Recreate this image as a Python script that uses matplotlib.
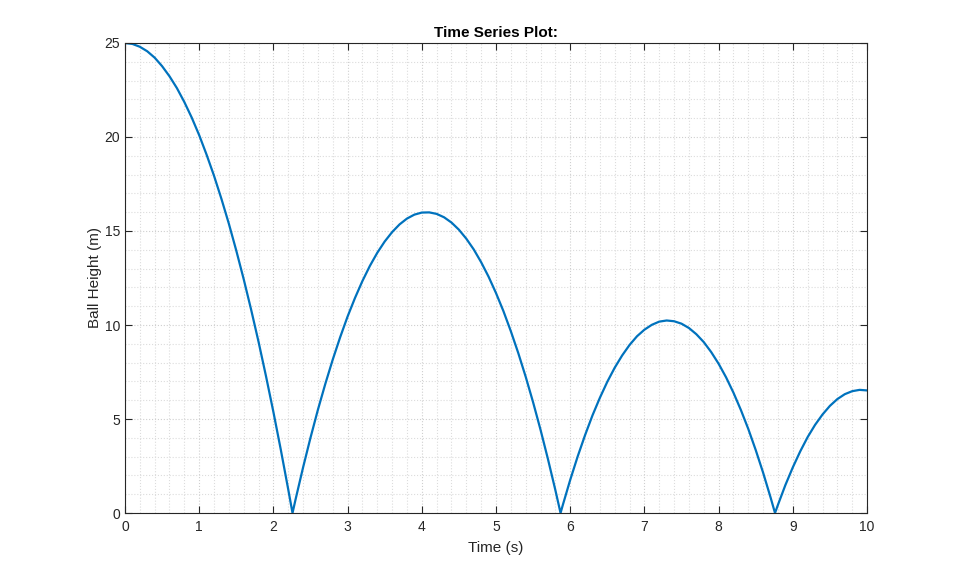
import matplotlib.pyplot as plt
from matplotlib.ticker import MultipleLocator

# values (time in s, height in m)
t_drop = [0.0, 0.1, 0.2, 0.3, 0.4, 0.5, 0.6, 0.7, 0.8, 0.9, 1.0, 1.1, 1.2,
          1.3, 1.4, 1.5, 1.6, 1.7, 1.8, 1.9, 2.0, 2.1, 2.2, 2.258]
h_drop = [25.0, 24.95, 24.80, 24.56, 24.22, 23.77, 23.23, 22.60, 21.86, 21.03,
          20.10, 19.06, 17.94, 16.71, 15.39, 13.96, 12.44, 10.82, 9.11, 7.29,
          5.38, 3.37, 1.26, 0.0]

t_bounce1 = [2.3, 2.4, 2.5, 2.6, 2.7, 2.8, 2.9, 3.0, 3.1, 3.2, 3.3, 3.4, 3.5,
             3.6, 3.7, 3.8, 3.9, 4.0, 4.1, 4.2, 4.3, 4.4, 4.5, 4.6, 4.7, 4.8,
             4.9, 5.0, 5.1, 5.2, 5.3, 5.4, 5.5, 5.6, 5.7, 5.8, 5.87]
h_bounce1 = [0.74, 2.42, 4.00, 5.49, 6.87, 8.16, 9.35, 10.45, 11.44, 12.34,
             13.14, 13.84, 14.44, 14.94, 15.35, 15.66, 15.87, 15.98, 15.99,
             15.91, 15.73, 15.45, 15.07, 14.59, 14.02, 13.34, 12.57, 11.70,
             10.74, 9.67, 8.51, 7.25, 5.89, 4.43, 2.87, 1.22, 0.0]

t_bounce2 = [5.9, 6.0, 6.1, 6.2, 6.3, 6.4, 6.5, 6.6, 6.7, 6.8, 6.9, 7.0, 7.1,
             7.2, 7.3, 7.4, 7.5, 7.6, 7.7, 7.8, 7.9, 8.0, 8.1, 8.2, 8.3, 8.4,
             8.5, 8.6, 8.7, 8.76]
h_bounce2 = [0.42, 1.76, 3.00, 4.14, 5.19, 6.13, 6.98, 7.73, 8.38, 8.94, 9.40,
             9.75, 10.01, 10.18, 10.24, 10.20, 10.07, 9.84, 9.51, 9.09, 8.56,
             7.94, 7.22, 6.40, 5.48, 4.47, 3.35, 2.14, 0.83, 0.0]

t_bounce3 = [8.8, 8.9, 9.0, 9.1, 9.2, 9.3, 9.4, 9.5, 9.6, 9.7, 9.8, 9.9, 10.0]
h_bounce3 = [0.44, 1.49, 2.43, 3.28, 4.04, 4.69, 5.24, 5.70, 6.06, 6.32, 6.48,
             6.55, 6.52]

t = t_drop + t_bounce1 + t_bounce2 + t_bounce3
h = h_drop + h_bounce1 + h_bounce2 + h_bounce3

plt.rcParams['font.family'] = ['Liberation Sans', 'DejaVu Sans']

fig = plt.figure(figsize=(9.59, 5.77), dpi=100)
ax = fig.add_axes([0.1303, 0.1109, 0.7738, 0.8146])

ax.plot(t, h, color='#0072BD', linewidth=1.6)

ax.set_xlim(0, 10)
ax.set_ylim(0, 25)
ax.xaxis.set_major_locator(MultipleLocator(1))
ax.xaxis.set_minor_locator(MultipleLocator(0.2))
ax.yaxis.set_major_locator(MultipleLocator(5))
ax.yaxis.set_minor_locator(MultipleLocator(1))

ax.grid(which='major', color='#cfcfcf', linestyle=':', linewidth=0.8)
ax.grid(which='minor', color='#dcdcdc', linestyle=':', linewidth=0.8)
ax.set_axisbelow(True)

ax.tick_params(which='major', direction='in', length=5, width=0.8,
               top=True, right=True, labelsize=10, colors='#262626')
ax.tick_params(axis='x', which='major', pad=5)
ax.tick_params(which='minor', length=0, top=True, right=True)
for s in ax.spines.values():
    s.set_color('#262626')
    s.set_linewidth(0.8)

ax.set_title('Time Series Plot:', fontsize=11, fontweight='bold', pad=4)
ax.set_xlabel('Time (s)', fontsize=11, color='#262626', labelpad=5)
ax.set_ylabel('Ball Height (m)', fontsize=11, color='#262626', labelpad=2)

fig.savefig('out.png', dpi=100)
